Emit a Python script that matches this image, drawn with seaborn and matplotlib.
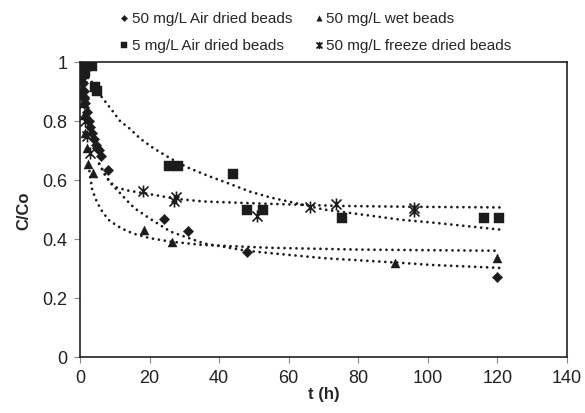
import matplotlib
matplotlib.use("Agg")
import matplotlib.pyplot as plt
from matplotlib.path import Path
import seaborn as sns

# --- measured data -------------------------------------------------------
air50_t = [0, 0.25, 0.5, 0.75, 1, 1.25, 1.5, 2, 2.5, 3, 3.5, 4, 4.5, 5, 5.5, 6, 8, 24, 31, 48, 120]
air50_c = [1.0, 0.97, 0.95, 0.93, 0.90, 0.88, 0.86, 0.83, 0.80, 0.78, 0.76, 0.74, 0.72, 0.71, 0.70, 0.68, 0.635,
           0.468, 0.427, 0.357, 0.27]

wet50_t = [0, 0.25, 0.5, 0.75, 1, 1.5, 2, 2.4, 3.7, 18.5, 26.3, 90.6, 120]
wet50_c = [1.0, 0.95, 0.90, 0.86, 0.82, 0.76, 0.71, 0.654, 0.625, 0.432, 0.389, 0.319, 0.336]

air5_t = [0, 0.25, 0.5, 0.75, 1, 1.5, 2, 3, 3.5, 4.2, 4.8, 25.7, 28.3, 44, 48, 52.7, 75.2, 116, 120.5]
air5_c = [1.0, 0.99, 0.98, 0.97, 0.96, 0.97, 0.985, 0.99, 0.985, 0.915, 0.90, 0.647, 0.647, 0.62, 0.497, 0.497,
          0.47, 0.47, 0.47]

frz50_t = [0, 0.25, 0.5, 1, 1.5, 2, 2.9, 18.1, 27.1, 27.7, 51, 66, 73.6, 96, 96]
frz50_c = [1.0, 0.96, 0.92, 0.86, 0.80, 0.75, 0.69, 0.561, 0.528, 0.541, 0.477, 0.508, 0.518, 0.496, 0.505]

# --- fitted model curves -------------------------------------------------
fit_air50_t = [5.5, 7.2, 8.7, 11.3, 13.5, 15.7, 20.2, 26, 35.6, 48, 54.8, 70, 92.4, 101, 120.6]
fit_air50_c = [0.655, 0.62, 0.59, 0.558, 0.53, 0.504, 0.468, 0.425, 0.385, 0.36, 0.352, 0.335, 0.319, 0.312, 0.302]

fit_wet50_t = [2.7, 3.5, 4.8, 6.06, 7.3, 8.5, 10.9, 13.3, 15.7, 20, 26, 35, 54.8, 80, 120.6]
fit_wet50_c = [0.63, 0.567, 0.527, 0.499, 0.479, 0.462, 0.443, 0.428, 0.417, 0.403, 0.391, 0.38, 0.37, 0.364, 0.36]

fit_air5_t = [2.5, 5, 7.3, 9.6, 11.5, 14.4, 17.3, 21.2, 26, 30.8, 36.6, 42.3, 49, 55, 70, 92.4, 101, 120.6]
fit_air5_c = [0.95, 0.90, 0.865, 0.83, 0.80, 0.773, 0.74, 0.707, 0.673, 0.643, 0.615, 0.59, 0.56, 0.54, 0.50,
              0.465, 0.456, 0.432]

fit_frz50_t = [5.5, 7, 8.5, 10.4, 13.8, 18.1, 27.7, 35.6, 54.8, 75, 96, 120.6]
fit_frz50_c = [0.655, 0.62, 0.595, 0.575, 0.564, 0.556, 0.536, 0.527, 0.519, 0.512, 0.509, 0.507]

labels = ["50 mg/L Air dried beads", "5 mg/L Air dried beads",
          "50 mg/L wet beads", "50 mg/L freeze dried beads"]
x_ticks = [0, 20, 40, 60, 80, 100, 120, 140]
y_ticks = [0, 0.2, 0.4, 0.6, 0.8, 1]
y_tick_labels = ["0", "0.2", "0.4", "0.6", "0.8", "1"]

# --- styling -------------------------------------------------------------
sns.set_style("white")
plt.rcParams["font.family"] = ["Liberation Sans", "DejaVu Sans"]

ink = "#1c1c1c"
fig = plt.figure(figsize=(5.85, 4.14), dpi=100)
ax = fig.add_axes([0.1368, 0.1353, 0.8325, 0.7126])

# asterisk: an "x" crossed by a vertical stroke
star = Path([(-1, -1), (1, 1), (-1, 1), (1, -1), (0, -1.2), (0, 1.2)],
            [Path.MOVETO, Path.LINETO, Path.MOVETO, Path.LINETO, Path.MOVETO, Path.LINETO])

dotted = dict(color=ink, linewidth=2.0, dashes=(0.01, 2.15), dash_capstyle="round")
for ft, fc in [(fit_air5_t, fit_air5_c), (fit_frz50_t, fit_frz50_c),
               (fit_wet50_t, fit_wet50_c), (fit_air50_t, fit_air50_c)]:
    sns.lineplot(x=ft, y=fc, sort=False, estimator=None, ax=ax, **dotted)

series = [
    (air50_t, air50_c, labels[0], "D", 28, 0.3),
    (air5_t, air5_c, labels[1], "s", 46, 0.3),
    (wet50_t, wet50_c, labels[2], "^", 42, 0.3),
    (frz50_t, frz50_c, labels[3], star, 75, 1.2),
]
for t, c, lab, mk, sz, lw in series:
    sns.scatterplot(x=t, y=c, marker=mk, s=sz, color=ink, edgecolor=ink, linewidth=lw,
                    ax=ax, label=lab, zorder=3)

handles, labs = ax.get_legend_handles_labels()
ax.legend_.remove()
fig.legend(handles, labs, ncol=2, loc="upper left", bbox_to_anchor=(0.195, 0.985),
           frameon=False, fontsize=11, handlelength=0.5, handletextpad=0.25,
           columnspacing=1.5, labelspacing=0.85, markerscale=0.6, borderaxespad=0)

ax.set_xlim(0, 140)
ax.set_ylim(0, 1)
ax.set_xticks(x_ticks)
ax.set_yticks(y_ticks)
ax.set_yticklabels(y_tick_labels)
ax.tick_params(axis="both", direction="out", length=4, width=0.8, color="#888888",
               labelsize=13, labelcolor="#222222", pad=5, bottom=True, left=True)
for sp in ax.spines.values():
    sp.set_color("#222222")
    sp.set_linewidth(1.2)
    sp.set_visible(True)

ax.set_xlabel("t (h)", fontsize=12, fontweight="bold", labelpad=0)
ax.set_ylabel("C/Co", fontsize=12, fontweight="bold", labelpad=8)

fig.savefig("out.png", dpi=100)
